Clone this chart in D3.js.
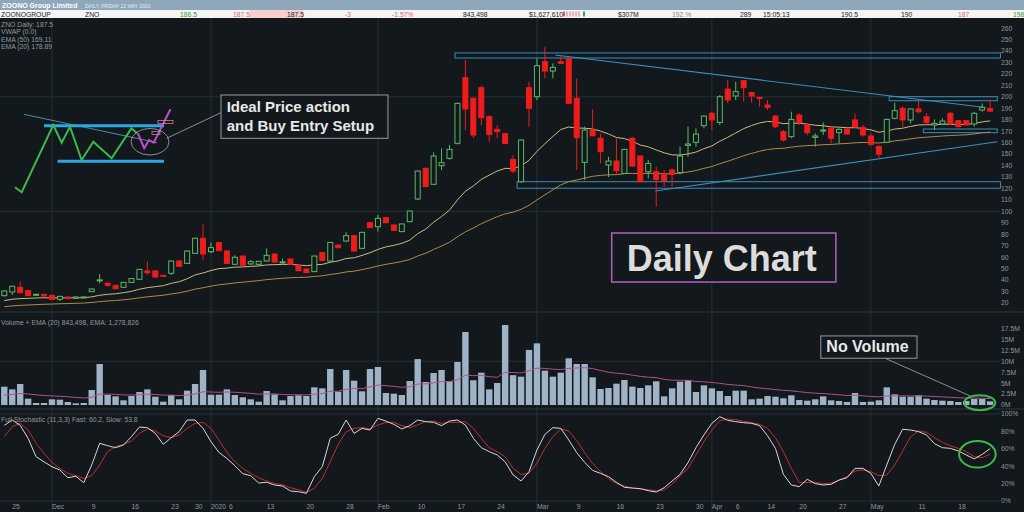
<!DOCTYPE html>
<html><head><meta charset="utf-8">
<script src="https://cdn.jsdelivr.net/npm/d3@7"></script>
<style>
body{margin:0;background:#12181b;}
svg{display:block;}
text{font-family:"Liberation Sans",Arial,sans-serif;}
</style></head><body>
<svg id="chart" width="1024" height="512"></svg>
<script>
// trading days (ASX), Nov 22 2019 .. May 22 2020
var fmt = d3.timeFormat("%Y-%m-%d");
var holidays = ["2019-12-25","2019-12-26","2020-01-01","2020-01-27","2020-04-10","2020-04-13"];
var dates = d3.timeDay.range(new Date(2019,10,22), new Date(2020,4,23))
  .filter(function(d){ return d.getDay() % 6 != 0 && holidays.indexOf(fmt(d)) < 0; })
  .map(fmt);

var openP = [26.4,29.6,33.7,30.8,27.0,27.6,26.7,23.2,25.2,24.1,
  25.0,29.9,39.5,37.2,35.4,33.7,38.0,40.7,48.0,48.0,
  44.2,45.9,56.7,54.6,63.4,76.5,64.8,72.7,65.4,53.8,
  61.0,54.1,53.8,56.7,62.8,55.6,58.4,52.9,49.7,47.4,
  64.0,56.6,70.6,74.1,78.8,67.7,90.1,86.6,94.5,88.1,
  82.3,91.0,110.8,137.6,123.6,139.9,146.3,159.4,216.7,198.7,
  208,182.7,171.6,167.8,145.4,125.9,208,200.1,230.7,222.5,
  230.7,233.6,198.7,142.8,171.0,163.8,140.5,143.9,133.2,163.8,
  148.3,134.6,134.6,132.3,136.1,133.8,157.6,160.3,174.8,185.6,
  177.7,206.8,200.7,214.1,203.6,199.5,192.9,183.2,169.6,165.2,
  184.1,175.4,164.6,170.4,172.5,168.7,171.9,179.8,173.3,165.8,
  156.5,160.3,181.2,189.9,179.8,189.4,182.6,175.4,176.3,185.6,
  179.2,179.2,176.3,188.5,189.9];
var highP = [31,35.2,38.6,31.2,28.0,28.0,27.0,26.4,25.6,26.0,
  25.8,32.8,45.3,38.6,35.8,38.4,41.8,49.9,56.1,48.4,
  44.6,57.1,57.1,65.8,77.0,89.0,72.7,73.1,65.8,61.6,
  61.4,57.5,56.8,67.7,63.2,58.7,58.8,53.3,50.1,61.4,
  64.6,73.3,71.0,81.7,79.2,82.1,90.5,96.8,94.9,88.5,
  89.4,100.7,135.6,138.0,151.5,155,158,195,232,199.5,
  209.7,184,175.4,168.5,149.2,163,213.2,233.6,243.8,229.2,
  236.5,234.2,216,174,189,168.1,147.7,163.8,154.6,165.2,
  148.8,144.8,139,136,137.5,156.5,174,172.5,184,187,
  201.5,214.7,213.2,214.7,204.5,200.1,197.2,184,171,187,
  185.6,176.8,168.1,177.7,174,172.5,172.5,185.6,175.4,168.1,
  157.9,181,194.9,191.4,190,197.2,185.6,180.3,181.2,187,
  179.8,179.8,187,194.3,197.8];
var lowP = [25.5,27.0,28.5,26.0,26.6,25.8,22.8,21.8,23.4,23.5,
  24.6,29.5,37.2,34.3,32.0,33.2,37.6,40.3,44.5,42.2,
  42.9,44.5,51.6,54.2,63.0,57.5,63.4,65.3,54.2,53.2,
  52.5,53.2,53.4,56.1,55.4,54.1,53.4,47.8,46.1,46.9,
  57.1,56.2,67.9,73.0,65.0,67.3,85.4,82.3,89.7,83.0,
  81.9,90.6,110.0,121.2,123.2,136,145,158.5,171,164,
  175.4,160.8,163.8,158.6,133.1,125,174,197.2,216.1,216.1,
  228.5,193.5,136,127.4,165.5,141.9,130,131.7,132.6,139,
  125.3,128.8,104.1,121.6,121.6,132.3,147.7,156.5,172.5,171,
  175.4,194.3,197.2,195.8,194.9,191.4,188.5,172.5,160.8,163.8,
  175.4,166.7,156.5,166.7,159.4,159.4,167,172.5,165.2,157,
  146.3,159.8,180.3,173.9,176.8,185.6,175.4,171,175.4,175.4,
  173.5,175,174,187,187];
var closeP = [30.5,34.6,29.0,26.4,27.6,26.1,23.2,25.8,23.8,25.2,
  25.3,32.2,40.2,35.4,32.5,38.0,41.3,49.4,46.5,42.7,
  43.3,56.7,52.0,65.4,76.5,62.8,68.3,65.7,54.6,59.9,
  52.9,56.1,56.4,61.6,55.8,55.9,53.8,48.2,46.5,61.0,
  57.0,72.9,68.3,78.8,65.4,81.7,85.8,93.9,90.1,83.4,
  89.0,100.3,135.2,121.6,148.3,142.5,154.2,194.3,189.4,166.7,
  181.8,167.2,169.6,159.4,135.2,162.3,190,227.2,222.5,225.7,
  229.2,194.3,164.3,171.0,166.0,152.1,143.9,135.5,154.1,139.6,
  125.9,141.9,127.9,126.8,132.3,148.3,158.8,167.5,183.2,179.8,
  200.1,197.2,204.5,208.0,200.7,198.7,190.8,173.9,162.3,180.3,
  177.4,168.7,165.8,171.0,163.8,171.6,167.5,173.9,166.7,158.5,
  149.8,180.3,187.9,179.8,189.4,187.0,177.7,176.8,178.9,176.8,
  173.9,175.4,185.6,190.8,187.5];
// volume, millions of shares
var volume = [4.19,3.58,4.8,1.45,0.46,0.46,1.3,1.22,0.69,0.38,
  0.46,3.43,9.38,2.29,1.98,1.07,2.06,2.97,3.58,1.9,
  0.76,2.29,1.3,3.28,4.8,8.01,2.36,2.36,3.58,2.29,
  1.76,1.3,0.76,3.2,2.44,1.07,2.06,2.21,2.06,4.04,
  3.81,8.24,3.05,8.01,5.57,3.13,8.24,8.7,2.75,2.59,
  2.29,5.49,10.5,5.26,7.32,8.01,5.42,9.84,16.7,5.65,
  7.4,3.58,5.03,18.3,6.82,6.48,12.6,14.1,7.86,6.48,
  7.4,10.68,9.38,9.38,6.33,3.66,3.89,4.88,5.72,4.2,
  3.89,4.5,5.42,1.98,3.81,5.34,5.72,2.97,4.5,3.81,
  3.2,2.06,3.28,3.28,1.3,1.45,2.06,1.9,1.53,2.21,
  1.14,0.99,1.3,1.98,1.07,0.92,0.69,2.75,0.69,0.76,
  1.07,4.04,2.44,1.9,1.9,2.21,1.45,1.14,0.99,0.92,
  0.69,0.92,1.37,1.37,0.84];
var stochFast = [87,93,87,72,51,45,39.4,35.6,26.8,28.4,
  21.1,41.4,66.3,63.6,61.3,64.4,74,85,84.3,77.8,
  65.1,72.8,79.7,93.1,93.1,83.5,68.2,55.9,49,40.6,
  31.4,29.1,20.7,21.5,18.4,17.2,11.5,10.7,8.8,28,
  39.5,72.1,76.6,93.1,77.8,83.5,81.6,95,91.9,88.1,
  82.8,86.6,93.1,91.2,90.4,86.6,91.9,93.1,87.4,72.1,
  61.3,56.7,52.9,45,29.9,23,33.7,58.6,76.6,84.3,
  83.5,70.1,55.6,44.4,35.2,31.8,28,21.5,15.7,14.9,
  14.2,11.9,10.3,15.3,23,30.6,44.1,61.3,75.9,89.3,
  96.9,92.7,91.2,90,89.3,86.6,75.1,60.5,30.6,18.4,
  16.5,25,20,18.4,19.2,24.1,26.8,37.5,37.5,31.8,
  17.2,41.4,65.1,82.4,81.6,79.7,75.9,65.9,61.3,60.5,
  57.5,52.9,48.3,53.6,60.2];
var stochSlow = [73.9,85.4,89.3,81.6,66.3,54.8,44.4,37.5,31.8,29.1,
  26,29.1,41.4,56.7,62.5,65.1,69,77.8,82.8,80.5,
  75.1,72.8,75.9,83.5,89.3,90.4,83.5,70.1,55.9,45.2,
  37.5,31.8,26.8,23,20.3,18.4,15.3,13,9.9,14.6,
  26,45.2,65.1,79.7,83.5,84.3,82.8,87.4,90.4,90.4,
  86.6,84.3,87.4,91.2,91.9,89.3,90.4,90.4,91.2,83.5,
  72.1,61.3,56.7,50.9,37.5,30.6,31.8,43.3,60.5,73.9,
  82.8,80.5,69.4,55.6,43.3,33.7,26,19.9,17.2,14.9,
  13.8,13,11.5,12.6,19.2,29.1,37.5,52.9,68.2,81.6,
  92.3,94.2,93.5,91.6,90,88.1,83.5,72.8,56.7,37.5,
  21.1,21.1,21.5,19.9,20.7,23.8,28,34.5,35.6,33.7,
  29.1,29.9,41.4,57.5,73.9,80.5,79,72.8,67.4,63.6,
  60.5,56.7,50.9,49.8,53.8];
// EMA start values
var emaSeed = {e20: 21.2, e50: 16.2, vol: 2.1};

var priceTicks = d3.range(20, 261, 10);
var volTicks = [0, 2.5, 5, 7.5, 10, 12.5, 15, 17.5];
var volLabels = ["0M","2.5M","5M","7.5M","10M","12.5M","15M","17.5M"];
var stochTicks = [0, 20, 40, 60, 80, 100];
var monthStarts = ["2019-12-02","2020-01-02","2020-02-03","2020-03-02","2020-04-01","2020-05-01"];
var dayLabels = [["2019-11-25","25"],["2019-12-02","Dec"],["2019-12-09","9"],["2019-12-16","16"],
  ["2019-12-23","23"],["2019-12-30","30"],["2020-01-02","2020"],["2020-01-06","6"],["2020-01-13","13"],
  ["2020-01-20","20"],["2020-01-28","28"],["2020-02-03","Feb"],["2020-02-10","10"],["2020-02-17","17"],
  ["2020-02-24","24"],["2020-03-02","Mar"],["2020-03-09","9"],["2020-03-16","16"],["2020-03-23","23"],
  ["2020-03-30","30"],["2020-04-01","Apr"],["2020-04-06","6"],["2020-04-14","14"],["2020-04-20","20"],
  ["2020-04-27","27"],["2020-05-01","May"],["2020-05-11","11"],["2020-05-18","18"]];
var legend = ["ZNO Daily: 187.5", "VWAP (0.0)", "EMA (50) 169.11", "EMA (20) 178.89"];
var quote = [["ZOONOGROUP",1,"#222"],["ZNO",85,"#222"],["186.5",180,"#3a9a3a"],["187.5",233,"#d66"],
  ["187.5",287,"#222"],["-3",345,"#d66"],["-1.57%",392,"#d66"],["843,498",463,"#222"],
  ["$1,627,610",529,"#222"],["$307M",618,"#222"],["192.%",672,"#888"],["289",740,"#222"],
  ["15:05:13",763,"#222"],["190.5",841,"#222"],["190",901,"#222"],["187",958,"#d66"],["198",1013,"#3a9a3a"]];
// drawn trendlines / zones: [index, price] pairs
var zones = [[56.7,125.3,233.9,238.3],[111.3,124.9,196.6,200.1],[115.6,124.9,168.7,171.9],[64.5,125.3,120.2,125.9]];
var trends = [[[69.3,236.5],[123.4,190.7]],[[81.9,117.8],[124.9,160.8]]];
var sketchGreen = [[1.35,121.0],[2.19,116.7],[6.16,175.4],[7.22,159.9],[8.26,173.9],[9.73,144.8],
  [11.2,160.8],[13.5,146.3],[16.0,172.5],[16.7,168.2]];
var sketchPink = [[16.8,168.2],[17.6,155.1],[18.2,162.3],[18.8,160.0],[20.9,189.1]];

var svg = d3.select("#chart");
var bg = "#12181b", grid = "#263035", axisCol = "#8e989d";

var x = d3.scaleBand().domain(dates).range([0.3, 994.1]);
var step = x.step();
function xi(i) { return 0.3 + step * (i + 0.5); }
function xd(d) { return x(d) + step / 2; }
var y = d3.scaleLinear().domain([20, 260]).range([303, 28.1]);
var yv = d3.scaleLinear().domain([0, 17.5]).range([405, 328.5]);
var ys = d3.scaleLinear().domain([0, 100]).range([501, 414]);

function ema(values, n, seed) {
  var k = 2 / (n + 1), out = [], e = seed;
  values.forEach(function(v) { e = e + k * (v - e); out.push(e); });
  return out;
}
var ema20 = ema(closeP, 20, emaSeed.e20);
var ema50 = ema(closeP, 50, emaSeed.e50);
var volEma = ema(volume, 20, emaSeed.vol);

svg.append("rect").attr("width", 1024).attr("height", 512).attr("fill", bg);

// grid
svg.append("g").selectAll("line").data(monthStarts).enter().append("line")
  .attr("x1", xd).attr("x2", xd).attr("y1", 18).attr("y2", 512)
  .attr("stroke", grid).attr("stroke-width", 1);
svg.append("g").selectAll("line").data([100, 200]).enter().append("line")
  .attr("x1", 0).attr("x2", 1000).attr("y1", y).attr("y2", y).attr("stroke", grid);
svg.append("line").attr("x1", 0).attr("x2", 1000).attr("y1", yv(10)).attr("y2", yv(10)).attr("stroke", grid);
svg.append("g").selectAll("line").data([0, 100]).enter().append("line")
  .attr("x1", 0).attr("x2", 1000).attr("y1", ys).attr("y2", ys).attr("stroke", grid);
svg.append("g").selectAll("line").data([312, 409]).enter().append("line")
  .attr("x1", 0).attr("x2", 1024).attr("y1", function(d){return d;}).attr("y2", function(d){return d;})
  .attr("stroke", "#2c373c");

// zones and trend lines
svg.append("g").selectAll("rect").data(zones).enter().append("rect")
  .attr("x", function(d){ return xi(d[0]); })
  .attr("width", function(d){ return xi(d[1]) - xi(d[0]); })
  .attr("y", function(d){ return y(d[3]); })
  .attr("height", function(d){ return y(d[2]) - y(d[3]); })
  .attr("fill", "none").attr("stroke", "#3a8dbd").attr("stroke-width", 1);
svg.append("g").selectAll("line").data(trends).enter().append("line")
  .attr("x1", function(d){ return xi(d[0][0]); }).attr("y1", function(d){ return y(d[0][1]); })
  .attr("x2", function(d){ return xi(d[1][0]); }).attr("y2", function(d){ return y(d[1][1]); })
  .attr("stroke", "#3a8dbd").attr("stroke-width", 1.2);

// EMA lines
var lineP = d3.line().x(function(d, i){ return xi(i); }).y(function(d){ return y(d); });
svg.append("path").attr("d", lineP(ema50)).attr("fill", "none").attr("stroke", "#b08a48").attr("stroke-width", 1);
svg.append("path").attr("d", lineP(ema20)).attr("fill", "none").attr("stroke", "#cdbb80").attr("stroke-width", 1);

// candles
var red = "#f01c1c", green = "#5cb866";
var bw = 6;
var candles = svg.append("g").selectAll("g").data(dates).enter().append("g");
candles.append("line")
  .attr("x1", xd).attr("x2", xd)
  .attr("y1", function(d, i){ return y(highP[i]); })
  .attr("y2", function(d, i){ return y(lowP[i]); })
  .attr("stroke", function(d, i){ return closeP[i] >= openP[i] ? green : red; });
candles.append("rect")
  .attr("x", function(d){ return xd(d) - bw / 2 + 0.5; })
  .attr("width", bw - 1)
  .attr("y", function(d, i){ return y(Math.max(openP[i], closeP[i])); })
  .attr("height", function(d, i){ return Math.max(1, Math.abs(y(openP[i]) - y(closeP[i]))); })
  .attr("fill", function(d, i){ return closeP[i] >= openP[i] ? bg : red; })
  .attr("stroke", function(d, i){ return closeP[i] >= openP[i] ? green : red; })
  .attr("stroke-width", 1);

// sketch of the ideal setup
var lineS = d3.line().x(function(d){ return xi(d[0]); }).y(function(d){ return y(d[1]); });
svg.append("path").attr("d", lineS([[2.48,184.7],[19.2,160.0]])).attr("stroke", "#5aa6d0").attr("stroke-width", 0.8).attr("fill", "none");
svg.append("path").attr("d", lineS([[5.0,174.8],[20.1,174.8]])).attr("stroke", "#29a8e6").attr("stroke-width", 3);
svg.append("path").attr("d", lineS([[6.7,143.7],[20.1,143.7]])).attr("stroke", "#29a8e6").attr("stroke-width", 3);
svg.append("path").attr("d", lineS(sketchGreen)).attr("stroke", "#3cb94a").attr("stroke-width", 2).attr("fill", "none");
svg.append("path").attr("d", lineS(sketchPink)).attr("stroke", "#c04bd0").attr("stroke-width", 2).attr("fill", "none");
[[19.33,21.22,176.7,179.3],[18.58,19.58,167.1,169.7]].forEach(function(r) {
  svg.append("rect").attr("x", xi(r[0])).attr("width", xi(r[1]) - xi(r[0]))
    .attr("y", y(r[3])).attr("height", y(r[2]) - y(r[3]))
    .attr("fill", "none").attr("stroke", "#d87a9a").attr("stroke-width", 0.8);
});
svg.append("ellipse").attr("cx", xi(18.33)).attr("cy", y(160.8)).attr("rx", 19).attr("ry", 13.3)
  .attr("fill", "none").attr("stroke", "#aaa").attr("stroke-width", 0.8);
svg.append("path").attr("d", lineS([[20.43,163.8],[27.35,186.5]])).attr("stroke", "#aaa").attr("stroke-width", 0.8);
svg.append("rect").attr("x", xi(27.26)).attr("width", xi(48.26) - xi(27.26))
  .attr("y", y(201.6)).attr("height", y(163.8) - y(201.6))
  .attr("fill", bg).attr("stroke", "#9a9a9a").attr("stroke-width", 1);
svg.append("text").attr("x", xi(27.97)).attr("y", y(187.0)).text("Ideal Price action")
  .style("font-weight", "bold").style("font-size", "15px").attr("fill", "#e8e8e8");
svg.append("text").attr("x", xi(27.97)).attr("y", y(170.4)).text("and Buy Entry Setup")
  .style("font-weight", "bold").style("font-size", "15px").attr("fill", "#e8e8e8");

// Daily Chart label
svg.append("rect").attr("x", xi(76.4)).attr("width", xi(104.6) - xi(76.4))
  .attr("y", y(81.1)).attr("height", y(38.3) - y(81.1))
  .attr("fill", bg).attr("stroke", "#b060b8").attr("stroke-width", 1.5);
svg.append("text").attr("x", xi(78.3)).attr("y", y(47.9)).text("Daily Chart")
  .style("font-weight", "bold").style("font-size", "36px").attr("fill", "#dcdcdc");

// volume
svg.append("g").selectAll("rect").data(dates).enter().append("rect")
  .attr("x", function(d){ return xd(d) - 3.2; }).attr("width", 6.4)
  .attr("y", function(d, i){ return yv(volume[i]); })
  .attr("height", function(d, i){ return yv(0) - yv(volume[i]); })
  .attr("fill", "#9fb3c6");
var lineV = d3.line().x(function(d, i){ return xi(i); }).y(function(d){ return yv(d); });
svg.append("path").attr("d", lineV(volEma)).attr("fill", "none").attr("stroke", "#b0508e").attr("stroke-width", 1);

// No Volume callout
svg.append("line").attr("x1", xi(110.65)).attr("y1", yv(10.8)).attr("x2", xi(121.7)).attr("y2", yv(1.9))
  .attr("stroke", "#aaa").attr("stroke-width", 0.8);
svg.append("rect").attr("x", xi(102.7)).attr("width", xi(114.8) - xi(102.7))
  .attr("y", yv(15.8)).attr("height", yv(10.7) - yv(15.8))
  .attr("fill", bg).attr("stroke", "#9a9a9a").attr("stroke-width", 1);
svg.append("text").attr("x", xi(103.4)).attr("y", yv(12.2)).text("No Volume")
  .style("font-weight", "bold").style("font-size", "16px").attr("fill", "#e8e8e8");
svg.append("ellipse").attr("cx", xi(122.7)).attr("cy", yv(0.53)).attr("rx", 15.5).attr("ry", 7.5)
  .attr("fill", "none").attr("stroke", "#3cb94a").attr("stroke-width", 2);

// stochastic
var lineK = d3.line().x(function(d, i){ return xi(i); }).y(function(d){ return ys(d); });
svg.append("path").attr("d", lineK(stochSlow)).attr("fill", "none").attr("stroke", "#c0302a").attr("stroke-width", 1);
svg.append("path").attr("d", lineK(stochFast)).attr("fill", "none").attr("stroke", "#d8d8d8").attr("stroke-width", 1);
svg.append("ellipse").attr("cx", xi(122.4)).attr("cy", ys(53.7)).attr("rx", 18.3).attr("ry", 13.3)
  .attr("fill", "none").attr("stroke", "#3cb94a").attr("stroke-width", 2);

// axes labels
function small(sel) { return sel.style("font-size", "6.8px").attr("fill", axisCol); }
small(svg.append("g").selectAll("text").data(priceTicks).enter().append("text")
  .attr("x", 1001).attr("y", function(d){ return y(d) + 2.4; }).text(function(d){ return d; }));
small(svg.append("g").selectAll("text").data(volTicks).enter().append("text")
  .attr("x", 1001).attr("y", function(d){ return yv(d) + 2.4; }).text(function(d, i){ return volLabels[i]; }));
small(svg.append("g").selectAll("text").data(stochTicks).enter().append("text")
  .attr("x", 1001).attr("y", function(d){ return ys(d) + 2.4; }).text(function(d){ return d + "%"; }));
small(svg.append("g").selectAll("text").data(dayLabels).enter().append("text")
  .attr("x", function(d){ return xd(d[0]) + (d[1] == "6" && d[0] == "2020-01-06" ? 2 : 0); })
  .attr("y", 508.5).text(function(d){ return d[1]; }));

// panel legends
small(svg.append("g").selectAll("text").data(legend).enter().append("text")
  .attr("x", 1).attr("y", function(d, i){ return 26.5 + i * 7.6; }).text(function(d){ return d; }));
small(svg.append("text").attr("x", 1).attr("y", 325).text("Volume + EMA (20) 843,498, EMA: 1,278,826"));
small(svg.append("text").attr("x", 1).attr("y", 421.5).text("Full Stochastic (11,3,3) Fast: 60.2, Slow: 53.8"));

// header
svg.append("rect").attr("width", 1024).attr("height", 10).attr("fill", "#8ea7bb");
svg.append("text").attr("x", 2).attr("y", 8).text("ZOONO Group Limited")
  .style("font-size", "7px").style("font-weight", "bold").attr("fill", "#fff");
svg.append("text").attr("x", 85).attr("y", 7.5).text("DAILY, FRIDAY 22 MAY 2020")
  .style("font-size", "5px").attr("fill", "#e8eef3");
svg.append("rect").attr("y", 10).attr("width", 1024).attr("height", 8).attr("fill", "#f4f4f4");
svg.append("rect").attr("x", 250).attr("y", 10).attr("width", 53).attr("height", 8).attr("fill", "#f7cfcf");
[["#e05a6a",563],["#f0b0b8",566],["#f0b0b8",569],["#f0b0b8",572],["#f0b0b8",575],["#f0b0b8",578],["#3aa845",583]]
  .forEach(function(b) {
    svg.append("rect").attr("x", b[1]).attr("y", 11.5).attr("width", 2).attr("height", 5).attr("fill", b[0]);
  });
svg.append("g").selectAll("text").data(quote).enter().append("text")
  .attr("x", function(d){ return d[1]; }).attr("y", 16.5).text(function(d){ return d[0]; })
  .style("font-size", "6.8px").attr("fill", function(d){ return d[2]; });
</script>
</body></html>
